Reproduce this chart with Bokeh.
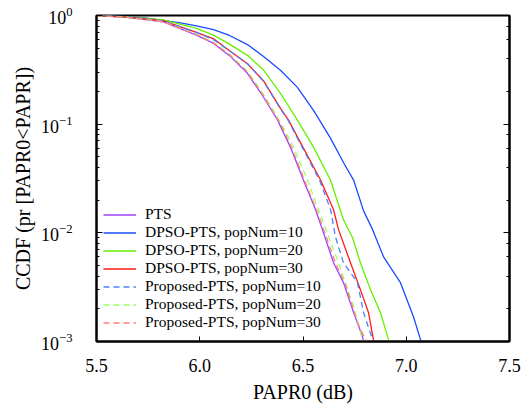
from bokeh.plotting import figure
from bokeh.models import LogAxis, Legend, LegendItem, FixedTicker, Range1d, NumeralTickFormatter, CustomJSTickFormatter
from bokeh.embed import file_html
from bokeh.resources import INLINE

# PAPR0 (dB) and CCDF values
pts_x = [5.50, 5.65, 5.824, 5.984, 6.067, 6.144, 6.231, 6.309, 6.377, 6.439, 6.502, 6.561, 6.594, 6.648, 6.696, 6.745, 6.788, 6.793]
pts_y = [1.0, 0.96, 0.875, 0.659, 0.553, 0.427, 0.294, 0.177, 0.109, 0.0615, 0.0306, 0.0163, 0.0107, 0.0053, 0.00348, 0.00185, 0.00111, 0.001]

dpso10_x = [5.50, 5.60, 5.742, 5.90, 5.984, 6.067, 6.144, 6.231, 6.309, 6.391, 6.473, 6.551, 6.633, 6.70, 6.745, 6.793, 6.837, 6.890, 6.972, 7.035, 7.069, 7.074]
dpso10_y = [1.0, 0.99, 0.944, 0.86, 0.804, 0.74, 0.655, 0.54, 0.42, 0.313, 0.218, 0.134, 0.0744, 0.043, 0.0306, 0.0160, 0.0107, 0.00602, 0.00348, 0.00169, 0.00104, 0.001]

dpso20_x = [5.50, 5.65, 5.824, 5.984, 6.067, 6.144, 6.231, 6.309, 6.391, 6.473, 6.551, 6.633, 6.696, 6.740, 6.778, 6.827, 6.875, 6.914, 6.919]
dpso20_y = [1.0, 0.97, 0.913, 0.760, 0.66, 0.545, 0.43, 0.315, 0.192, 0.109, 0.0615, 0.0306, 0.0132, 0.0090, 0.0053, 0.0030, 0.00185, 0.00104, 0.001]

dpso30_x = [5.50, 5.65, 5.824, 5.984, 6.067, 6.144, 6.231, 6.309, 6.391, 6.430, 6.480, 6.585, 6.648, 6.672, 6.730, 6.778, 6.817, 6.841, 6.843]
dpso30_y = [1.0, 0.965, 0.894, 0.698, 0.61, 0.474, 0.36, 0.25, 0.140, 0.109, 0.072, 0.0306, 0.0163, 0.0107, 0.0053, 0.0030, 0.00185, 0.00104, 0.001]

prop10_x = [5.50, 5.65, 5.824, 5.984, 6.067, 6.144, 6.231, 6.309, 6.391, 6.430, 6.480, 6.580, 6.634, 6.657, 6.696, 6.764, 6.793, 6.837, 6.840]
prop10_y = [1.0, 0.965, 0.894, 0.698, 0.60, 0.474, 0.36, 0.248, 0.138, 0.107, 0.070, 0.0306, 0.0163, 0.0092, 0.0053, 0.00348, 0.00185, 0.00104, 0.001]

prop20_x = [5.50, 5.65, 5.824, 5.984, 6.067, 6.144, 6.231, 6.309, 6.391, 6.454, 6.522, 6.575, 6.624, 6.672, 6.745, 6.788, 6.793]
prop20_y = [1.0, 0.962, 0.88, 0.67, 0.565, 0.44, 0.306, 0.188, 0.104, 0.0615, 0.0306, 0.0163, 0.0092, 0.0053, 0.00209, 0.00104, 0.001]

prop30_x = [5.50, 5.65, 5.824, 5.984, 6.067, 6.144, 6.231, 6.309, 6.391, 6.444, 6.507, 6.565, 6.604, 6.657, 6.706, 6.764, 6.803, 6.813]
prop30_y = [1.0, 0.962, 0.878, 0.665, 0.560, 0.435, 0.300, 0.181, 0.100, 0.0615, 0.0306, 0.0163, 0.0102, 0.0053, 0.00333, 0.00149, 0.00104, 0.001]

labels = ["PTS", "DPSO-PTS, popNum=10", "DPSO-PTS, popNum=20", "DPSO-PTS, popNum=30",
          "Proposed-PTS, popNum=10", "Proposed-PTS, popNum=20", "Proposed-PTS, popNum=30"]
x_ticks = [5.5, 6.0, 6.5, 7.0, 7.5]

FONT = "'Liberation Serif', 'Times New Roman', serif"

p = figure(width=530, height=405, output_backend="svg", toolbar_location=None,
           y_axis_type="log", x_range=Range1d(5.5, 7.5), y_range=Range1d(1e-3, 1.0),
           min_border_left=96, min_border_right=21, min_border_top=15, min_border_bottom=63)
p.grid.visible = False
p.outline_line_color = "black"
p.outline_line_width = 2
p.background_fill_color = "white"
p.border_fill_color = "white"

series = [
    (pts_x, pts_y, "#a040ff", "solid"),
    (dpso10_x, dpso10_y, "#1a4dff", "solid"),
    (dpso20_x, dpso20_y, "#66f000", "solid"),
    (dpso30_x, dpso30_y, "#ff1a1a", "solid"),
    (prop10_x, prop10_y, "#4d80ff", "6 4"),
    (prop20_x, prop20_y, "#99ff66", "6 4"),
    (prop30_x, prop30_y, "#ff7f7f", "6 4"),
]
renderers = []
for xs, ys, c, d in series:
    r = p.line(xs, ys, line_color=c, line_width=1.3, line_dash=d)
    renderers.append(r)

xa = p.xaxis[0]
xa.ticker = FixedTicker(ticks=x_ticks)
xa.formatter = NumeralTickFormatter(format="0.0")
xa.major_tick_in = 5
xa.major_tick_out = 0
xa.minor_tick_in = 0
xa.minor_tick_out = 0
xa.axis_label = "PAPR0 (dB)"
ya = p.yaxis[0]
ya.major_tick_in = 6
ya.major_tick_out = 0
ya.minor_tick_in = 3
ya.minor_tick_out = 0
ya.axis_label = "CCDF (pr [PAPR0<PAPR])"
for ax in (xa, ya):
    ax.axis_line_color = "black"
    ax.axis_line_width = 2
    ax.major_label_text_font = FONT
    ax.major_label_text_font_size = "18px"
    ax.major_label_text_color = "black"
    ax.axis_label_text_font = FONT
    ax.axis_label_text_font_size = "20px"
    ax.axis_label_text_font_style = "normal"
    ax.axis_label_text_color = "black"
xa.major_label_standoff = 17
xa.axis_label_standoff = 6
ya.major_label_standoff = 24
ya.axis_label_standoff = 4

ra = LogAxis(major_tick_in=6, major_tick_out=0, minor_tick_in=3, minor_tick_out=0,
             formatter=CustomJSTickFormatter(code="return ''"), major_label_standoff=0,
             axis_line_color="black", axis_line_width=2)
p.add_layout(ra, "right")

items = [LegendItem(label=l, renderers=[r]) for l, r in zip(labels, renderers)]
leg = Legend(items=items, location=(7, 10), background_fill_alpha=0, border_line_alpha=0,
             padding=0, margin=0, spacing=0, glyph_width=33, glyph_height=15, label_height=15,
             label_standoff=9, label_text_font=FONT, label_text_font_size="15.5px",
             label_text_color="black")
p.add_layout(leg, "center")

open("out.html", "w").write(file_html(p, INLINE))
